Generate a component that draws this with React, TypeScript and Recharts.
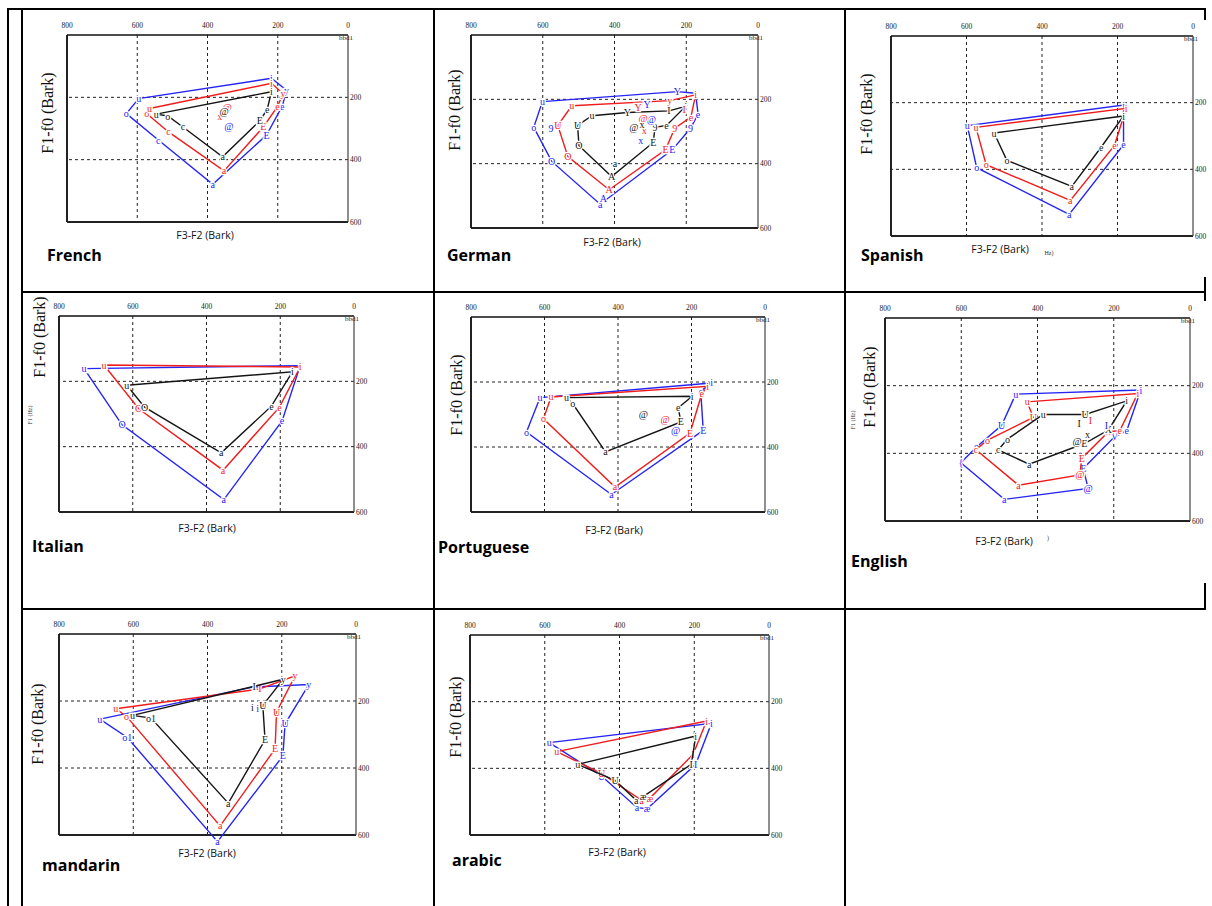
import React from "react";
import { ScatterChart, Scatter, XAxis, YAxis, ReferenceLine } from "recharts";

type Pt = { v: string; x: number; y: number };
const p = (v: string, x: number, y: number): Pt => ({ v, x, y });

// axis ticks shared by every panel
const xTicks = [0, 200, 400, 600, 800];
const yTicks = [0, 200, 400, 600];
const gridX = [200, 400, 600];
const gridY = [200, 400];

// French
const frenchBlue = [p("u", 596, 204), p("i", 218, 139), p("y", 175, 177), p("e", 187, 228), p("E", 232, 321), p("a", 385, 479), p("c", 540, 337), p("o", 631, 252), p("u", 596, 204)];
const frenchRed = [p("u", 565, 236), p("i", 218, 155), p("y", 185, 188), p("e", 201, 230), p("E", 241, 295), p("a", 353, 436), p("c", 511, 311), p("o", 573, 252), p("u", 565, 236)];
const frenchBlack = [p("u", 546, 254), p("i", 218, 182), p("e", 230, 239), p("E", 251, 275), p("a", 357, 391), p("c", 470, 295), p("o", 513, 260), p("u", 546, 254)];
const frenchBlueExtra = [p("@", 339, 293)];
const frenchRedExtra = [p("@", 344, 234), p("x", 365, 262)];
const frenchBlackExtra = [p("@", 353, 246)];

// German
const germanBlue = [p("u", 601, 207), p("Y", 225, 176), p("i", 174, 181), p("e", 167, 246), p("9", 188, 290), p("E", 239, 357), p("a", 440, 526), p("O", 575, 393), p("o", 625, 287), p("u", 601, 207)];
const germanRed = [p("u", 519, 220), p("y", 246, 204), p("i", 174, 186), p("e", 187, 255), p("9", 232, 290), p("E", 258, 357), p("A", 415, 481), p("O", 530, 378), p("U", 558, 281), p("u", 519, 220)];
const germanBlack = [p("u", 463, 251), p("Y", 364, 241), p("I", 248, 236), p("i", 202, 222), p("e", 255, 281), p("9", 287, 287), p("E", 292, 334), p("A", 408, 440), p("O", 499, 344), p("U", 503, 281), p("u", 463, 251)];
const germanBlueExtra = [p("Y", 309, 215), p("@", 297, 262), p("x", 327, 328), p("9", 577, 290), p("A", 431, 507)];
const germanRedExtra = [p("Y", 334, 226), p("@", 320, 259), p("x", 317, 297), p("I", 206, 233)];
const germanBlackExtra = [p("@", 346, 287), p("x", 323, 279), p("a", 399, 398)];

// Spanish
const spanishBlue = [p("u", 598, 269), p("i", 184, 207), p("e", 184, 326), p("a", 328, 535), p("o", 573, 395), p("u", 598, 269)];
const spanishRed = [p("u", 575, 274), p("i", 177, 217), p("e", 208, 328), p("a", 325, 493), p("o", 548, 386), p("u", 575, 274)];
const spanishBlack = [p("u", 527, 291), p("i", 184, 240), p("e", 243, 333), p("a", 321, 451), p("o", 493, 373), p("u", 527, 291)];

// Italian
const italianBlue = [p("u", 732, 161), p("i", 146, 152), p("e", 195, 321), p("a", 353, 562), p("O", 629, 333), p("u", 732, 161)];
const italianRed = [p("u", 678, 150), p("i", 146, 156), p("e", 202, 279), p("a", 355, 472), p("O", 584, 284), p("u", 678, 150)];
const italianBlack = [p("u", 616, 212), p("i", 167, 171), p("e", 224, 276), p("a", 360, 419), p("O", 568, 279), p("u", 616, 212)];

// Portuguese
const portugueseBlue = [p("u", 612, 248), p("i", 145, 203), p("e", 175, 228), p("E", 168, 349), p("a", 418, 546), p("o", 649, 354), p("u", 612, 248)];
const portugueseRed = [p("u", 582, 246), p("i", 156, 213), p("e", 172, 236), p("E", 204, 357), p("a", 408, 523), p("o", 603, 313), p("u", 582, 246)];
const portugueseBlack = [p("u", 540, 248), p("i", 198, 244), p("e", 236, 279), p("E", 229, 323), p("a", 434, 415), p("o", 523, 267), p("u", 540, 248)];
const portugueseBlueExtra = [p("@", 243, 349)];
const portugueseRedExtra = [p("@", 272, 316)];
const portugueseBlackExtra = [p("@", 331, 299)];

// English
const englishBlue = [p("u", 457, 225), p("i", 129, 213), p("e", 166, 333), p("V", 198, 351), p("E", 280, 445), p("@", 267, 504), p("a", 487, 536), p("{", 601, 428), p("o", 560, 381), p("U", 494, 317), p("u", 457, 225)];
const englishRed = [p("u", 427, 248), p("i", 137, 223), p("e", 184, 333), p("x", 214, 336), p("E", 284, 415), p("@", 289, 464), p("a", 450, 494), p("c", 562, 389), p("o", 531, 361), p("U", 411, 294), p("u", 427, 248)];
const englishBlack = [p("u", 385, 285), p("U", 275, 285), p("i", 166, 245), p("X", 214, 331), p("E", 277, 371), p("a", 422, 432), p("c", 503, 390), p("o", 479, 358), p("u", 385, 285)];
const englishBlueExtra = [p("I", 219, 317)];
const englishRedExtra = [p("I", 261, 304)];
const englishBlackExtra = [p("I", 291, 312), p("x", 269, 343), p("@", 296, 364)];

// Mandarin
const mandarinBlue = [p("u", 690, 254), p("I", 275, 158), p("y", 127, 151), p("U", 191, 268), p("E", 197, 364), p("a", 373, 620), p("o1", 616, 309), p("u", 690, 254)];
const mandarinRed = [p("u", 647, 223), p("I", 259, 164), p("y", 164, 125), p("U", 214, 233), p("E", 218, 343), p("a", 366, 573), p("o", 618, 246), p("u", 647, 223)];
const mandarinBlack = [p("u", 602, 243), p("I", 274, 156), p("y", 196, 135), p("U", 251, 213), p("E", 245, 316), p("a", 344, 505), p("o1", 552, 251), p("u", 602, 243)];
const mandarinBlueExtra = [p("i", 265, 221)];
const mandarinBlackExtra = [p("i", 279, 218)];

// Arabic
const arabicBlue = [p("u", 588, 323), p("i", 154, 265), p("I", 196, 388), p("æ", 326, 521), p("a", 353, 518), p("U", 448, 423), p("u", 588, 323)];
const arabicRed = [p("u", 568, 350), p("i", 167, 258), p("I", 203, 358), p("æ", 319, 490), p("a", 341, 496), p("U", 448, 415), p("u", 568, 350)];
const arabicBlack = [p("u", 512, 388), p("i", 196, 303), p("I", 208, 388), p("æ", 337, 485), p("a", 355, 496), p("U", 412, 436), p("u", 512, 388)];

const BLUE = "#2424f5";
const RED = "#f01c1c";
const BLACK = "#151515";
const SERIF = "'Liberation Serif', 'DejaVu Serif', serif";
const SANS = "'Open Sans', 'Liberation Sans', sans-serif";

type Panel = {
  title: string;
  box: [number, number, number, number]; // plot left, right, top, bottom
  f1: [number, number];
  xl: [number, number];
  tl: [number, number];
  blue: Pt[];
  red: Pt[];
  black: Pt[];
  blueX?: Pt[];
  redX?: Pt[];
  blackX?: Pt[];
};

const panels: Panel[] = [
  { title: "French", box: [67, 348, 35, 222], f1: [48, 113], xl: [205, 235], tl: [47, 255], blue: frenchBlue, red: frenchRed, black: frenchBlack, blueX: frenchBlueExtra, redX: frenchRedExtra, blackX: frenchBlackExtra },
  { title: "German", box: [471, 758, 35, 228], f1: [455, 110], xl: [612, 242], tl: [447, 255], blue: germanBlue, red: germanRed, black: germanBlack, blueX: germanBlueExtra, redX: germanRedExtra, blackX: germanBlackExtra },
  { title: "Spanish", box: [891, 1193, 36, 236], f1: [867, 114], xl: [1000, 249], tl: [861, 255], blue: spanishBlue, red: spanishRed, black: spanishBlack },
  { title: "Italian", box: [59, 354, 316, 512], f1: [40, 337], xl: [207, 528], tl: [32, 546], blue: italianBlue, red: italianRed, black: italianBlack },
  { title: "Portuguese", box: [471, 765, 317, 512], f1: [457, 395], xl: [614, 530], tl: [438, 547], blue: portugueseBlue, red: portugueseRed, black: portugueseBlack, blueX: portugueseBlueExtra, redX: portugueseRedExtra, blackX: portugueseBlackExtra },
  { title: "English", box: [885, 1190, 318, 521], f1: [870, 387], xl: [1004, 541], tl: [851, 561], blue: englishBlue, red: englishRed, black: englishBlack, blueX: englishBlueExtra, redX: englishRedExtra, blackX: englishBlackExtra },
  { title: "mandarin", box: [59, 356, 634, 835], f1: [38, 724], xl: [207, 853], tl: [42, 865], blue: mandarinBlue, red: mandarinRed, black: mandarinBlack, blueX: mandarinBlueExtra, blackX: mandarinBlackExtra },
  { title: "arabic", box: [470, 769, 635, 835], f1: [456, 717], xl: [617, 852], tl: [452, 860], blue: arabicBlue, red: arabicRed, black: arabicBlack },
];

const TOP_H = 16;
const RIGHT_W = 30;
const LEFT_PAD = 14;
const BOTTOM_PAD = 14;

function TopTick(props: any) {
  return (
    <text x={props.x} y={props.y + 1} textAnchor="middle" fontSize={7.5} fontFamily={SERIF} fill="#222">
      {props.payload.value}
    </text>
  );
}

function RightTick(props: any) {
  const v = props.payload.value;
  if (v === 0) {
    return (
      <text x={props.x - 17} y={props.y + 5} fontSize={7} fontFamily={SERIF} fill="#222">
        bbd1
      </text>
    );
  }
  return (
    <text x={props.x - 6} y={props.y + 2.5} fontSize={7.5} fontFamily={SERIF} fill="#222">
      {v}
    </text>
  );
}

function vowelShape(color: string) {
  return (props: any) => (
    <text
      x={props.cx}
      y={props.cy + 3.5}
      textAnchor="middle"
      fontSize={10}
      fontFamily={SERIF}
      fill={color}
      stroke="#fff"
      strokeWidth={2.5}
      paintOrder="stroke"
    >
      {props.payload.v}
    </text>
  );
}

function VowelChart({ panel }: { panel: Panel }) {
  const [l, r, t, b] = panel.box;
  const w = r - l + RIGHT_W + LEFT_PAD;
  const h = b - t + TOP_H + BOTTOM_PAD;
  const polys: [Pt[], string][] = [
    [panel.blue, BLUE],
    [panel.red, RED],
    [panel.black, BLACK],
  ];
  const extras: [Pt[] | undefined, string][] = [
    [panel.blueX, BLUE],
    [panel.redX, RED],
    [panel.blackX, BLACK],
  ];
  return (
    <div style={{ position: "absolute", left: l - LEFT_PAD, top: t - TOP_H }}>
      <ScatterChart width={w} height={h} margin={{ top: 0, right: 0, left: LEFT_PAD, bottom: BOTTOM_PAD }}>
        <XAxis
          type="number"
          dataKey="x"
          domain={[0, 800]}
          reversed
          allowDataOverflow
          orientation="top"
          ticks={xTicks}
          interval={0}
          height={TOP_H}
          tickLine={false}
          axisLine={{ stroke: "#111", strokeWidth: 1.5 }}
          tick={<TopTick />}
        />
        <YAxis
          type="number"
          dataKey="y"
          domain={[0, 600]}
          reversed
          allowDataOverflow
          orientation="right"
          ticks={yTicks}
          interval={0}
          width={RIGHT_W}
          tickLine={false}
          axisLine={{ stroke: "#444", strokeWidth: 1.2 }}
          tick={<RightTick />}
        />
        {gridX.map((g) => (
          <ReferenceLine key={"gx" + g} x={g} stroke="#222" strokeDasharray="3 3" />
        ))}
        {gridY.map((g) => (
          <ReferenceLine key={"gy" + g} y={g} stroke="#222" strokeDasharray="3 3" />
        ))}
        <ReferenceLine x={800} stroke="#222" strokeWidth={2} />
        <ReferenceLine y={600} stroke="#222" strokeWidth={2} />
        {polys.map(([pts, c], i) => (
          <Scatter
            key={"poly" + i}
            data={pts}
            line={{ stroke: c, strokeWidth: 1.4 }}
            lineType="joint"
            fill={c}
            shape={vowelShape(c)}
            isAnimationActive={false}
          />
        ))}
        {extras.map(([pts, c], i) =>
          pts ? <Scatter key={"ex" + i} data={pts} fill={c} shape={vowelShape(c)} isAnimationActive={false} /> : null
        )}
      </ScatterChart>
    </div>
  );
}

function Rule({ x, y, w, h }: { x: number; y: number; w: number; h: number }) {
  return <div style={{ position: "absolute", left: x, top: y, width: w, height: h, background: "#000" }} />;
}

function centered(x: number, y: number, extra: React.CSSProperties = {}): React.CSSProperties {
  return { position: "absolute", left: x, top: y, transform: "translate(-50%, -50%)", whiteSpace: "nowrap", ...extra };
}

export default function App() {
  return (
    <div style={{ position: "absolute", left: 0, top: 0, width: 1212, height: 906, background: "#fff", overflow: "hidden" }}>
      <style>{".recharts-scatter{clip-path:none !important}"}</style>
      {/* table rules */}
      <Rule x={7} y={8} w={1199} h={2} />
      <Rule x={7} y={8} w={2} h={898} />
      <Rule x={21} y={8} w={2} h={898} />
      <Rule x={433} y={8} w={2} h={898} />
      <Rule x={844} y={8} w={2} h={898} />
      <Rule x={21} y={291} w={1185} h={2} />
      <Rule x={21} y={608} w={1185} h={2} />
      <Rule x={1204} y={8} w={2} h={12} />
      <Rule x={1204} y={277} w={2} h={24} />
      <Rule x={1204} y={583} w={2} h={27} />

      {panels.map((pn) => (
        <React.Fragment key={pn.title}>
          <VowelChart panel={pn} />
          <div style={centered(pn.f1[0], pn.f1[1], { transform: "translate(-50%, -50%) rotate(-90deg)", fontFamily: SERIF, fontSize: 16, color: "#111" })}>
            F1-f0 (Bark)
          </div>
          <div style={centered(pn.xl[0], pn.xl[1], { fontFamily: SANS, fontSize: 10.5, color: "#111" })}>F3-F2 (Bark)</div>
          <div style={{ position: "absolute", left: pn.tl[0], top: pn.tl[1], transform: "translateY(-50%)", fontFamily: SANS, fontWeight: 700, fontSize: 16, color: "#000", whiteSpace: "nowrap" }}>
            {pn.title}
          </div>
        </React.Fragment>
      ))}

      {/* stray small captions left over in the source figures */}
      <div style={centered(1049, 253, { fontFamily: SERIF, fontSize: 6, color: "#333" })}>Hz)</div>
      <div style={centered(1048, 538, { fontFamily: SERIF, fontSize: 6, color: "#333" })}>)</div>
      <div style={centered(30, 415, { transform: "translate(-50%, -50%) rotate(-90deg)", fontFamily: SERIF, fontSize: 6, color: "#333" })}>F1 (Hz)</div>
      <div style={centered(853, 420, { transform: "translate(-50%, -50%) rotate(-90deg)", fontFamily: SERIF, fontSize: 6, color: "#333" })}>F1 (Hz)</div>
    </div>
  );
}
